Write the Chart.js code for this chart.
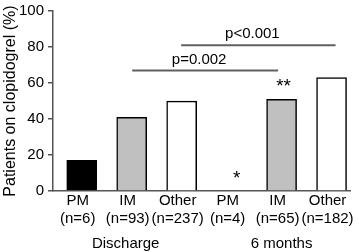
<!DOCTYPE html>
<html>
<head>
<meta charset="utf-8">
<script src="https://cdn.jsdelivr.net/npm/chart.js@4/dist/chart.umd.min.js"></script>
<style>
  html, body { margin: 0; padding: 0; background: #fff; }
  #wrap { width: 359px; height: 252px; }
</style>
</head>
<body>
<div id="wrap"><canvas id="chart"></canvas></div>
<script>
// data
const groups = ['PM', 'IM', 'Other', 'PM', 'IM', 'Other'];
const nLabels = ['(n=6)', '(n=93)', '(n=237)', '(n=4)', '(n=65)', '(n=182)'];
const values = [17, 41, 50, 0, 51, 63];
const periods = ['Discharge', '6 months'];
const stars = ['', '', '', '*', '**', ''];
const yTicks = [0, 20, 40, 60, 80, 100];

// significance brackets (x in bar-index units, y in %)
const brackets = [
  { from: 2.01, to: 4.93, y: 67, text: 'p=0.002' },
  { from: 2.99, to: 6.08, y: 81, text: 'p<0.001' }
];

const fills = ['#000000', '#c0c0c0', '#ffffff', '#000000', '#c0c0c0', '#ffffff'];
const FONT = '"Liberation Sans", Arial, sans-serif';

Chart.defaults.font.family = FONT;
Chart.defaults.font.size = 15;
Chart.defaults.color = '#000';

const extras = {
  id: 'extras',
  afterDatasetsDraw(chart) {
    const ctx = chart.ctx;
    const x = chart.scales.x, y = chart.scales.y;
    ctx.save();
    ctx.font = '15px ' + FONT;
    ctx.fillStyle = '#000';
    ctx.textAlign = 'center';
    ctx.textBaseline = 'middle';

    // brackets
    brackets.forEach(b => {
      const x0 = x.getPixelForValue(b.from), x1 = x.getPixelForValue(b.to);
      const py = y.getPixelForValue(b.y);
      ctx.strokeStyle = '#606060';
      ctx.lineWidth = 2;
      ctx.beginPath();
      ctx.moveTo(x0, py);
      ctx.lineTo(x1, py);
      ctx.stroke();
      ctx.fillText(b.text, (x0 + x1) / 2 - 6, py - 11);
    });

    // stars above bars
    ctx.font = '19px ' + FONT;
    stars.forEach((s, i) => {
      if (!s) return;
      const px = x.getPixelForValue(i + 1);
      const py = y.getPixelForValue(values[i]);
      ctx.fillText(s, px + (values[i] === 0 ? 5 : 2), py - 12);
    });

    // period labels
    ctx.font = '15px ' + FONT;
    ctx.fillText(periods[0], x.getPixelForValue(2) - 6, 244);
    ctx.fillText(periods[1], x.getPixelForValue(5), 244);
    ctx.restore();
  }
};

new Chart(document.getElementById('chart'), {
  type: 'bar',
  data: {
    datasets: [{
      data: values.map((v, i) => ({ x: i + 1, y: v })),
      backgroundColor: fills,
      borderColor: '#000',
      borderWidth: 1.5,
      borderSkipped: 'start',
      barThickness: 30
    }]
  },
  options: {
    responsive: true,
    maintainAspectRatio: false,
    animation: false,
    layout: { padding: { top: 0, right: 6, left: 0, bottom: 0 } },
    plugins: {
      legend: { display: false },
      tooltip: { enabled: false }
    },
    scales: {
      x: {
        type: 'linear',
        offset: false,
        min: 0.425,
        max: 6.377,
        afterFit: s => { s.height = 61; },
        afterBuildTicks: s => { s.ticks = groups.map((g, i) => ({ value: i + 1 })); },
        grid: { display: false, drawTicks: false, offset: false },
        border: { color: '#555', width: 1.5 },
        ticks: {
          padding: 1,
          labelOffset: -4,
          maxRotation: 0,
          autoSkip: false,
          callback: v => [groups[v - 1], nLabels[v - 1]]
        }
      },
      y: {
        min: 0,
        max: 100,
        afterFit: s => { s.width = 53; },
        afterBuildTicks: s => { s.ticks = yTicks.map(v => ({ value: v })); },
        grid: { drawOnChartArea: false, drawTicks: true, tickLength: 5, color: '#555', lineWidth: 1.5 },
        border: { color: '#555', width: 1.5 },
        ticks: { padding: 4, font: { lineHeight: 0.95 } },
        title: {
          display: true,
          text: 'Patients on clopidogrel (%)',
          font: { size: 16 },
          padding: { top: 1, bottom: 0 }
        }
      }
    }
  },
  plugins: [extras]
});
</script>
</body>
</html>
